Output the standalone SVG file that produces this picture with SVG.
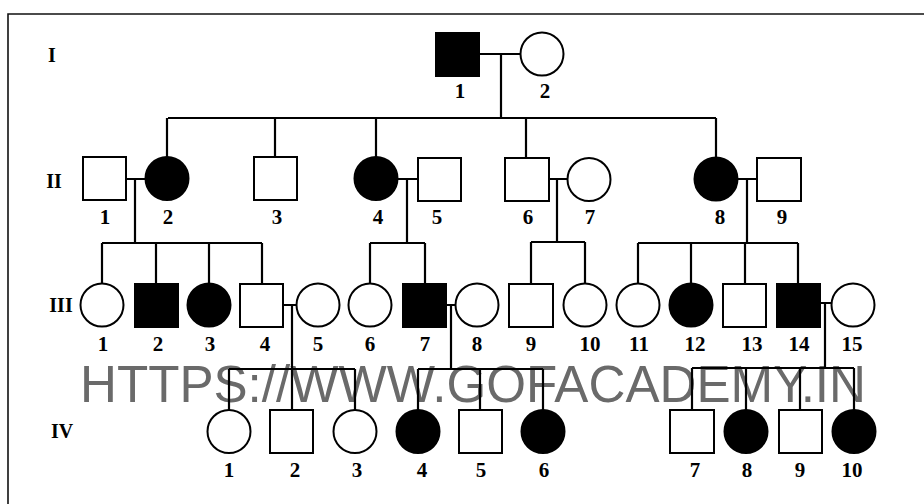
<svg xmlns="http://www.w3.org/2000/svg" width="924" height="504" viewBox="0 0 924 504">
<style>
.m{fill:#fff;stroke:#000;stroke-width:2}
.a{fill:#000;stroke:#000;stroke-width:2}
.c{fill:none;stroke:#000;stroke-width:2.2}
.n{font-family:"Liberation Serif",serif;font-weight:bold;font-size:21px;text-anchor:middle;fill:#000}
.g{font-family:"Liberation Serif",serif;font-weight:bold;font-size:20px;text-anchor:middle;fill:#000}
.w{font-family:"Liberation Sans",Arial,sans-serif;font-size:52px;fill:#6a6a6a}
</style>
<rect width="924" height="504" fill="#fff"/>
<path d="M8,504 V14 H924" fill="none" stroke="#111" stroke-width="1.6"/>
<text class="w" x="80" y="402" textLength="786" lengthAdjust="spacingAndGlyphs">HTTPS://WWW.GOFACADEMY.IN</text>
<g id="generation-labels">
<text class="g" x="52" y="62">I</text>
<text class="g" x="54" y="188">II</text>
<text class="g" x="61" y="312">III</text>
<text class="g" x="62" y="438">IV</text>
</g>
<g id="connectors">
<path class="c" d="M479,54 H521 M501,54 V118 M168,118 H716 M167,118 V157 M275,118 V157 M376,118 V157 M526,118 V157 M716,118 V157"/>
<path class="c" d="M126,179 H145 M135,179 V243 M102,243 H262 M102,243 V283 M156,243 V283 M209,243 V283 M262,243 V283"/>
<path class="c" d="M397,179 H418 M407,179 V243 M370,243 H425 M370,243 V283 M425,243 V283"/>
<path class="c" d="M549,179 H567 M557,179 V242 M531,242 H585 M531,242 V283 M585,242 V283"/>
<path class="c" d="M738,179 H757 M747,179 V243 M638,243 H798 M638,243 V283 M691,243 V283 M745,243 V283 M798,243 V283"/>
<path class="c" d="M283,305 H296 M292,305 V369 M229,369 H355 M229,369 V410 M292,369 V410 M355,369 V410"/>
<path class="c" d="M446,305 H455 M451,305 V369 M418,369 H543 M418,369 V410 M480,369 V410 M543,369 V410"/>
<path class="c" d="M820,303 H831 M825,303 V368 M692,368 H854 M692,368 V410 M746,368 V410 M800,368 V410 M854,368 V410"/>
</g>
<g id="I-1"><rect class="a" x="436" y="33" width="43" height="43"/><text class="n" x="460" y="98">1</text></g>
<g id="I-2"><circle class="m" cx="542" cy="54" r="21.5"/><text class="n" x="545" y="98">2</text></g>
<g id="II-1"><rect class="m" x="83" y="157" width="43" height="43"/><text class="n" x="105" y="224">1</text></g>
<g id="II-2"><circle class="a" cx="167" cy="178.5" r="21.5"/><text class="n" x="168" y="224">2</text></g>
<g id="II-3"><rect class="m" x="254" y="157" width="43" height="43"/><text class="n" x="277" y="224">3</text></g>
<g id="II-4"><circle class="a" cx="376" cy="178.5" r="21.5"/><text class="n" x="378" y="224">4</text></g>
<g id="II-5"><rect class="m" x="418" y="158" width="43" height="43"/><text class="n" x="437" y="224">5</text></g>
<g id="II-6"><rect class="m" x="505" y="158" width="44" height="43"/><text class="n" x="528" y="224">6</text></g>
<g id="II-7"><circle class="m" cx="589" cy="179.5" r="21.5"/><text class="n" x="590" y="224">7</text></g>
<g id="II-8"><circle class="a" cx="716" cy="179" r="21.5"/><text class="n" x="720" y="224">8</text></g>
<g id="II-9"><rect class="m" x="757" y="158" width="44" height="43"/><text class="n" x="782" y="224">9</text></g>
<g id="III-1"><circle class="m" cx="102" cy="305" r="21.5"/><text class="n" x="103" y="351">1</text></g>
<g id="III-2"><rect class="a" x="135" y="284" width="43" height="43"/><text class="n" x="158" y="351">2</text></g>
<g id="III-3"><circle class="a" cx="209" cy="305" r="21.5"/><text class="n" x="210" y="351">3</text></g>
<g id="III-4"><rect class="m" x="240" y="284" width="43" height="43"/><text class="n" x="265" y="351">4</text></g>
<g id="III-5"><circle class="m" cx="318" cy="305" r="21.5"/><text class="n" x="318" y="351">5</text></g>
<g id="III-6"><circle class="m" cx="370" cy="305" r="21.5"/><text class="n" x="370" y="351">6</text></g>
<g id="III-7"><rect class="a" x="403" y="284" width="43" height="43"/><text class="n" x="425" y="351">7</text></g>
<g id="III-8"><circle class="m" cx="477" cy="305" r="21.5"/><text class="n" x="477" y="351">8</text></g>
<g id="III-9"><rect class="m" x="509" y="284" width="44" height="43"/><text class="n" x="531" y="351">9</text></g>
<g id="III-10"><circle class="m" cx="585" cy="305" r="21.5"/><text class="n" x="590" y="351">10</text></g>
<g id="III-11"><circle class="m" cx="638" cy="305" r="21.5"/><text class="n" x="639" y="351">11</text></g>
<g id="III-12"><circle class="a" cx="691" cy="305" r="21.5"/><text class="n" x="695" y="351">12</text></g>
<g id="III-13"><rect class="m" x="723" y="284" width="43" height="43"/><text class="n" x="752" y="351">13</text></g>
<g id="III-14"><rect class="a" x="777" y="284" width="43" height="43"/><text class="n" x="799" y="351">14</text></g>
<g id="III-15"><circle class="m" cx="853" cy="305" r="21.5"/><text class="n" x="852" y="351">15</text></g>
<g id="IV-1"><circle class="m" cx="229" cy="431.5" r="21.5"/><text class="n" x="229" y="477">1</text></g>
<g id="IV-2"><rect class="m" x="270" y="410" width="43" height="43"/><text class="n" x="295" y="477">2</text></g>
<g id="IV-3"><circle class="m" cx="355" cy="431.5" r="21.5"/><text class="n" x="357" y="477">3</text></g>
<g id="IV-4"><circle class="a" cx="418" cy="431.5" r="21.5"/><text class="n" x="422" y="477">4</text></g>
<g id="IV-5"><rect class="m" x="459" y="410" width="43" height="43"/><text class="n" x="481" y="477">5</text></g>
<g id="IV-6"><circle class="a" cx="543" cy="431.5" r="21.5"/><text class="n" x="544" y="477">6</text></g>
<g id="IV-7"><rect class="m" x="670" y="410" width="44" height="43"/><text class="n" x="695" y="477">7</text></g>
<g id="IV-8"><circle class="a" cx="746" cy="431.5" r="21.5"/><text class="n" x="747" y="477">8</text></g>
<g id="IV-9"><rect class="m" x="779" y="410" width="43" height="43"/><text class="n" x="800" y="477">9</text></g>
<g id="IV-10"><circle class="a" cx="854" cy="431.5" r="21.5"/><text class="n" x="852" y="477">10</text></g>
</svg>
